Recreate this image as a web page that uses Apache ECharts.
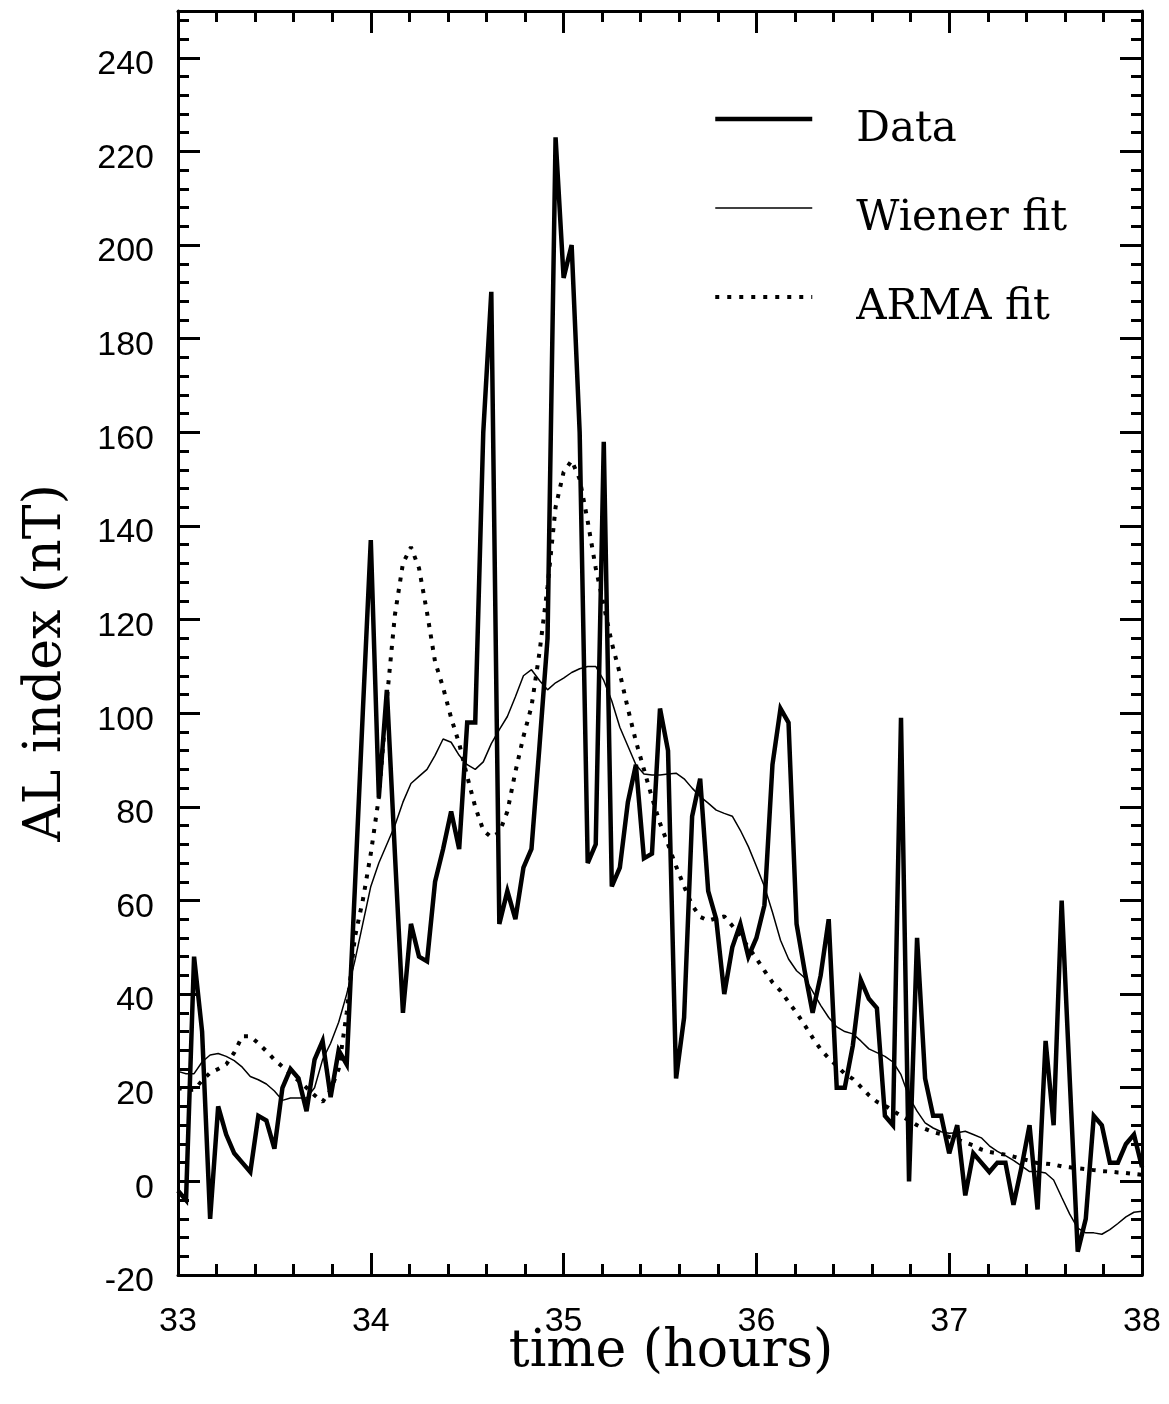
<!DOCTYPE html>
<html>
<head>
<meta charset="utf-8">
<script src="https://cdn.jsdelivr.net/npm/echarts@6/dist/echarts.min.js"></script>
<style>
  html, body { margin: 0; padding: 0; background: #fff; }
  #chart { width: 1169px; height: 1404px; }
</style>
</head>
<body>
<div id="chart"></div>
<script>
// Sampling grid: 2.5-minute samples from 33 h to 38 h
const startHour = 33;
const stepMinutes = 2.5;

// AL index data (nT)
const alData = [
  -2, -4, 48, 32, -8, 16, 10, 6, 4, 2,
  14, 13, 7, 20, 24, 22, 15, 26, 30, 18,
  28, 25, 62, 100, 137, 82, 105, 70, 36, 55,
  48, 47, 64, 71, 79, 71, 98, 98, 160, 190,
  55, 62, 56, 67, 71, 93, 116, 223, 193, 200,
  160, 68, 72, 158, 63, 67, 81, 89, 69, 70,
  101, 92, 22, 35, 78, 86, 62, 56, 40, 50,
  55, 48, 52, 59, 89, 101, 98, 55, 45, 36,
  44, 56, 20, 20, 29, 43, 39, 37, 14, 12,
  99, 0, 52, 22, 14, 14, 6, 12, -3, 6,
  4, 2, 4, 4, -5, 3, 12, -6, 30, 12,
  60, 22, -15, -8, 14, 12, 4, 4, 8, 10, 3
];

// Wiener filter fit
const wienerFit = [
  23.5, 23, 23, 25.5, 27, 27.3, 26.7, 25.8, 24.4, 22.4,
  21.7, 20.8, 19.3, 17.3, 17.8, 17.8, 17.8, 20, 26, 29.5,
  34, 40, 47, 55, 63, 68, 72, 76, 81, 85,
  86.5, 88, 91, 94.5, 93.8, 91, 89, 88, 89.6, 93.5,
  96.5, 99.3, 103.5, 108, 109.3, 107, 105, 106.5, 107.5, 108.7,
  109.5, 110, 110, 107, 102.6, 97, 93, 89, 87, 86.8,
  86.8, 87, 87.2, 86, 84, 82.2, 80.8, 79.3, 78.6, 78,
  75, 71.5, 67.3, 63, 57.5, 51.5, 47.5, 45, 43.5, 40.6,
  37.6, 35, 33, 32, 31.5, 30, 28.3, 27.5, 26.7, 25.5,
  22.8, 18, 15, 12.5, 11.4, 10.6, 10.3, 10.4, 10.7, 10,
  9.3, 7.6, 6.4, 5.5, 4.5, 3.3, 2.1, 2.1, 1.8, 0.3,
  -3.4, -7, -10, -11, -11, -11.3, -10.3, -9, -7.6, -6.6, -6.4
];

// ARMA model fit
const armaFit = [
  20, 19.5, 19.6, 21.5, 23.2, 24, 25, 27.5, 31, 31,
  29.5, 27.8, 26, 24.5, 23, 21.5, 20, 18.4, 17, 19.5,
  24, 36, 52, 60, 70, 82, 103, 121, 132, 135.5,
  131, 121.5, 111, 105.5, 99, 93.5, 86.5, 80, 75, 73.5,
  74.5, 79, 87.5, 95, 101.4, 113, 127, 144, 151.5, 154,
  150, 141, 131, 123, 115, 108.5, 101, 94, 88, 82,
  76.5, 72, 67.3, 63, 59, 56.5, 55.7, 56.2, 56.6, 54.6,
  52.5, 50, 47.6, 45, 42.5, 40.7, 38.3, 36, 33.4, 30.7,
  28.2, 26.3, 24.7, 23, 21.9, 20.2, 18.4, 17, 16.2, 15.1,
  14, 13, 12, 11.2, 10.5, 10.1, 9.5, 9, 8.3, 7.7,
  6.8, 6.3, 6, 5.7, 5.3, 4.8, 4.4, 3.9, 3.8, 3.6,
  3.2, 3, 2.8, 2.6, 2.4, 2.2, 2.1, 1.9, 1.8, 1.6, 1.4
];

const seriesNames = ['Data', 'Wiener fit', 'ARMA fit'];
const xRange = [33, 38];
const yRange = [-20, 250];

const times = alData.map((_, i) => startHour + i * stepMinutes / 60);
const pair = arr => arr.map((v, i) => [times[i], v]);

const black = '#000';
const tickFont = 'Liberation Sans';
const titleFont = 'DejaVu Serif';

const chart = echarts.init(document.getElementById('chart'), null, { renderer: 'canvas' });

function xAxisCfg(position, showLabels) {
  return {
    type: 'value', position: position,
    min: xRange[0], max: xRange[1], interval: 1,
    axisLine: { show: true, onZero: false, lineStyle: { color: black, width: 3 } },
    axisTick: { show: true, inside: true, length: 22, lineStyle: { color: black, width: 3 } },
    minorTick: { show: true, splitNumber: 5, length: 11, lineStyle: { color: black, width: 3 } },
    splitLine: { show: false },
    axisLabel: showLabels ? { show: true, color: black, fontFamily: tickFont, fontSize: 34, margin: 30 } : { show: false },
    name: showLabels ? 'time (hours)' : '',
    nameLocation: 'middle', nameGap: 51, nameMoveOverlap: false,
    nameTextStyle: { color: black, fontFamily: titleFont, fontSize: 52, padding: [0, 0, 0, 22] }
  };
}

function yAxisCfg(position, major, showLabels) {
  return {
    type: 'value', position: position,
    min: yRange[0], max: yRange[1], interval: major ? 20 : 4,
    axisLine: { show: major, onZero: false, lineStyle: { color: black, width: 3 } },
    axisTick: { show: true, inside: true, length: major ? 22 : 11, lineStyle: { color: black, width: 3 } },
    splitLine: { show: false },
    axisLabel: showLabels ? { show: true, color: black, fontFamily: tickFont, fontSize: 34, margin: 24,
      showMaxLabel: false, verticalAlign: 'top', lineHeight: 14 } : { show: false },
    name: showLabels ? 'AL index (nT)' : '',
    nameLocation: 'middle', nameGap: 106,
    nameTextStyle: { color: black, fontFamily: titleFont, fontSize: 52, padding: [0, 40, 0, 0] }
  };
}

const option = {
  animation: false,
  backgroundColor: '#fff',
  grid: { left: 178, top: 11, right: 27, bottom: 129, containLabel: false },
  xAxis: [xAxisCfg('bottom', true), xAxisCfg('top', false)],
  yAxis: [
    yAxisCfg('left', true, true),
    yAxisCfg('left', false, false),
    yAxisCfg('right', true, false),
    yAxisCfg('right', false, false)
  ],
  legend: {
    orient: 'vertical', left: 708, top: 82,
    itemWidth: 97, itemHeight: 20, itemGap: 25,
    lineStyle: { width: 'inherit' },
    itemStyle: { opacity: 0 },
    formatter: name => '{t|' + name + '}',
    textStyle: {
      color: black, fontFamily: titleFont, fontSize: 42, padding: [0, 0, 0, 39],
      rich: { t: { color: black, fontFamily: titleFont, fontSize: 42, lineHeight: 40, padding: [22, 0, 0, 0] } }
    },
    data: [
      { name: seriesNames[0], lineStyle: { width: 4.5 }, itemStyle: { opacity: 0 } },
      { name: seriesNames[1], lineStyle: { width: 1.5 }, itemStyle: { opacity: 0 } },
      { name: seriesNames[2], lineStyle: { width: 4, type: [4, 8] }, itemStyle: { opacity: 0 } }
    ]
  },
  series: [
    {
      name: seriesNames[0], type: 'line', data: pair(alData),
      xAxisIndex: 0, yAxisIndex: 0, symbol: 'none', showSymbol: false, silent: true,
      itemStyle: { color: black },
      lineStyle: { color: black, width: 4.5, join: 'miter', miterLimit: 4 }
    },
    {
      name: seriesNames[1], type: 'line', data: pair(wienerFit),
      xAxisIndex: 0, yAxisIndex: 0, symbol: 'none', showSymbol: false, silent: true,
      itemStyle: { color: black },
      lineStyle: { color: black, width: 1.5 }
    },
    {
      name: seriesNames[2], type: 'line', data: pair(armaFit),
      xAxisIndex: 0, yAxisIndex: 0, symbol: 'none', showSymbol: false, silent: true,
      itemStyle: { color: black },
      lineStyle: { color: black, width: 4, type: [4, 7.5], cap: 'butt' }
    }
  ]
};

chart.setOption(option);
</script>
</body>
</html>
